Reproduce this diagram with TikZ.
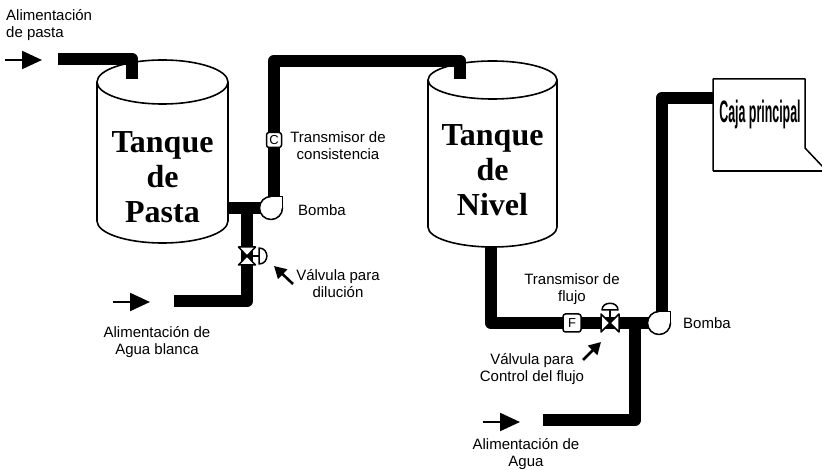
\documentclass[tikz,border=0pt]{standalone}
\usepackage{fontspec}
\setmainfont{Liberation Sans}
\newfontfamily\tankfont{Liberation Serif}
\usetikzlibrary{arrows.meta}

\tikzset{
  pipe/.style={line width=12.5pt, line join=round, black},
  part/.style={draw, fill=white, line width=1.5pt, line join=round},
  tankline/.style={draw, fill=white, line width=1.6pt},
  lbl/.style={font=\fontsize{15}{17}\selectfont, align=center, inner sep=0pt},
  tanklbl/.style={font=\tankfont\bfseries\fontsize{32}{35}\selectfont, align=center, inner sep=0pt},
  inst/.style={draw, fill=white, line width=1.5pt, rounded corners=2.5pt,
    minimum size=15pt, inner sep=0pt, font=\fontsize{13}{13}\selectfont},
  feed/.style={line width=2.2pt, -{Triangle[length=20pt,width=18pt]}},
  pointer/.style={line width=2.6pt, -{Triangle[length=12pt,width=13pt]}},
  % centrifugal pump: circle with a square outlet corner at the upper right
  pumpsym/.pic={
    \draw[part] (0,0) circle[radius=11.5];
    \fill[white] (0,0) rectangle (11.5,-11.5);
    \draw[line width=1.5pt, line join=round] (0,-11.5) -- (11.5,-11.5) -- (11.5,0);
  },
  % valve on a vertical line, actuator to the right
  vvalve/.pic={
    \draw[part] (-8.5,-9) -- (8.5,-9) -- (-8.5,9) -- (8.5,9) -- cycle;
    \draw[line width=1.5pt] (0,0) -- (12,0);
    \draw[part] (12,8) -- (12,-8) .. controls (22.5,-8) and (22.5,8) .. (12,8) -- cycle;
  },
  % valve on a horizontal line, actuator on top
  hvalve/.pic={
    \draw[part] (-9,-9) -- (-9,9) -- (9,-9) -- (9,9) -- cycle;
    \draw[line width=1.5pt] (0,0) -- (0,-13);
    \draw[part] (-8,-13) .. controls (-8,-22) and (8,-22) .. (8,-13) -- cycle;
  },
}

\begin{document}
\begin{tikzpicture}[x=1pt, y=-1pt]
\useasboundingbox (0,0) rectangle (822,470);

% ---- tanks ----
\draw[tankline] (97,82) -- (97,221)
  arc[start angle=180, end angle=0, x radius=65.5, y radius=22] -- (228,82);
\draw[tankline] (162.5,82) ellipse[x radius=65.5, y radius=22];
\draw[tankline] (428,80) -- (428,227)
  arc[start angle=180, end angle=0, x radius=64.5, y radius=20] -- (557,80);
\draw[tankline] (492.5,80) ellipse[x radius=64.5, y radius=19];

\node[tanklbl, anchor=north] (tank1) at (162.5,131) {Tanque\\de\\Pasta};
\node[tanklbl, anchor=north] (tank2) at (492.5,124) {Tanque\\de\\Nivel};

% ---- pipe junctions and equipment positions ----
\coordinate (feedend) at (58,59);
\coordinate (t1in) at (132,79);
\coordinate (t1out) at (227,208);
\coordinate (pump1) at (271,208);
\coordinate (p1up) at (274,208);
\coordinate (p1top) at (274,61);
\coordinate (t2top) at (460,61);
\coordinate (t2in) at (460,79);
\coordinate (jt1) at (247,208);
\coordinate (valve1) at (247,256);
\coordinate (wbend) at (174,301);
\coordinate (t2out) at (491,247);
\coordinate (pump2) at (659,323);
\coordinate (p2up) at (662,323);
\coordinate (jt2) at (635,323);
\coordinate (valve2) at (610,323);
\coordinate (wfend) at (543,420);
\coordinate (cajain) at (713,98);

% ---- pipes ----
\draw[pipe] (feedend) -- (feedend -| t1in) -- (t1in);
\draw[pipe] (t1out) -- (pump1);
\draw[pipe] (jt1) -- (wbend -| jt1) -- (wbend);
\draw[pipe] (p1up) -- (p1top) -- (t2top) -- (t2in);
\draw[pipe] (t2out) -- (t2out |- pump2) -- (pump2);
\draw[pipe] (jt2) -- (jt2 |- wfend) -- (wfend);
\draw[pipe] (p2up) -- (p2up |- cajain) -- (cajain);

% ---- pumps and valves ----
\pic at (pump1) {pumpsym};
\pic at (pump2) {pumpsym};
\pic at (valve1) {vvalve};
\pic at (valve2) {hvalve};

% ---- transmitters ----
\node[inst] (ct) at (274,140) {C};
\node[inst, minimum size=18pt] (ft) at (572,323) {F};

% ---- head box ----
\draw[line width=1.5pt, line join=round] (713,171) -- (713,79) -- (805,79) -- (805,148) -- (823,167);
\draw[line width=1.2pt] (713,171) -- (822,171);
\node[inner sep=0pt] (caja) at (760,114)
  {\scalebox{0.4}[1]{\fontsize{31}{31}\selectfont\bfseries Caja principal}};

% ---- feed arrows ----
\coordinate (fa1s) at (5,60);   \coordinate (fa1e) at (42,60);
\coordinate (fa2s) at (113,302); \coordinate (fa2e) at (150,302);
\coordinate (fa3s) at (483,422); \coordinate (fa3e) at (520,422);
\draw[feed] (fa1s) -- (fa1e);
\draw[feed] (fa2s) -- (fa2e);
\draw[feed] (fa3s) -- (fa3e);

% ---- pointer arrows ----
\coordinate (pa1s) at (293,284); \coordinate (pa1e) at (274,266);
\coordinate (pa2s) at (583,360); \coordinate (pa2e) at (601,342);
\draw[pointer] (pa1s) -- (pa1e);
\draw[pointer] (pa2s) -- (pa2e);

% ---- labels ----
\node[lbl, align=left, anchor=north west] (lfeed) at (6,9) {Alimentación\\de pasta};
\node[lbl, anchor=north] (lct) at (338,131) {Transmisor de\\consistencia};
\node[lbl, anchor=base west] (lp1) at (298,216) {Bomba};
\node[lbl, anchor=north] (lv1) at (338,269) {Válvula para\\dilución};
\node[lbl, anchor=north] (lwb) at (157,326) {Alimentación de\\Agua blanca};
\node[lbl, anchor=north] (lft) at (572,273) {Transmisor de\\flujo};
\node[lbl, anchor=base west] (lp2) at (683,329) {Bomba};
\node[lbl, anchor=north] (lv2) at (532,353) {Válvula para\\Control del flujo};
\node[lbl, anchor=north] (lwf) at (526,438) {Alimentación de\\Agua};
\end{tikzpicture}
\end{document}
